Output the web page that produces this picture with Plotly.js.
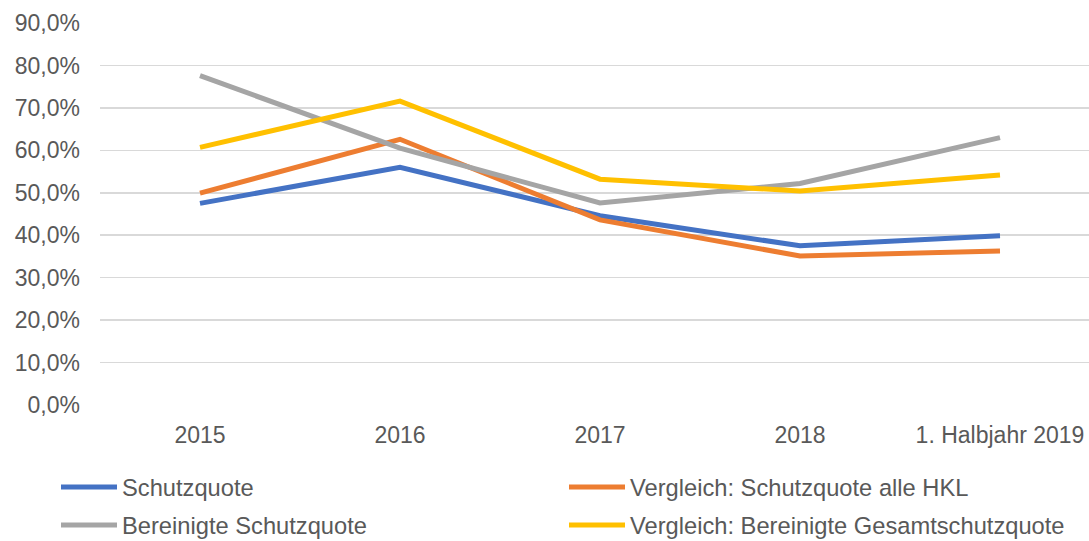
<!DOCTYPE html>
<html>
<head>
<meta charset="utf-8">
<script src="https://cdn.plot.ly/plotly-3.0.1.min.js"></script>
<style>html,body{margin:0;padding:0;background:#fff;}#chart{width:1089px;height:541px;}</style>
</head>
<body>
<div id="chart"></div>
<script>
const categories = ["2015", "2016", "2017", "2018", "1. Halbjahr 2019"];
const schutzquote = [0.475, 0.560, 0.446, 0.375, 0.399];
const vergleichAlleHKL = [0.499, 0.626, 0.436, 0.351, 0.363];
const bereinigteSchutzquote = [0.776, 0.605, 0.476, 0.522, 0.630];
const vergleichBereinigteGesamt = [0.607, 0.716, 0.532, 0.504, 0.542];
const seriesNames = ["Schutzquote", "Vergleich: Schutzquote alle HKL", "Bereinigte Schutzquote", "Vergleich: Bereinigte Gesamtschutzquote"];
const colors = ["#4472C4", "#ED7D31", "#A5A5A5", "#FFC000"];
const seriesValues = [schutzquote, vergleichAlleHKL, bereinigteSchutzquote, vergleichBereinigteGesamt];
const legendIds = ["legend", "legend2", "legend3", "legend4"];

const traces = seriesValues.map((vals, i) => ({
  type: 'scatter', mode: 'lines',
  x: categories.map((c, j) => j), y: vals,
  name: seriesNames[i],
  legend: legendIds[i],
  line: {color: colors[i], width: 5},
  hoverinfo: 'skip'
}));

const FS = 23;
const legendBase = {
  orientation: 'h', xref: 'container', yref: 'container',
  xanchor: 'left', yanchor: 'middle',
  itemwidth: 56,
  font: {size: 23.7, color: '#595959'},
  bgcolor: 'rgba(0,0,0,0)'
};
const colX = [56, 564];
const rowY = [487, 525];

const layout = {
  width: 1089, height: 541,
  margin: {l: 100, r: 0, t: 23, b: 136},
  paper_bgcolor: '#fff', plot_bgcolor: '#fff',
  separators: ',.',
  font: {family: 'Liberation Sans, Arial, sans-serif', size: FS, color: '#595959'},
  showlegend: true,
  xaxis: {
    range: [-0.5, 4.445],
    tickmode: 'array', tickvals: [0,1,2,3,4], ticktext: categories,
    showgrid: false, zeroline: false, showline: false, ticks: '',
    ticklabelstandoff: 14,
    tickfont: {size: FS, color: '#595959'},
    fixedrange: true
  },
  yaxis: {
    range: [0, 0.9], dtick: 0.1, tick0: 0,
    tickformat: '.1%',
    showgrid: true, gridcolor: '#D9D9D9', gridwidth: 1.5,
    zeroline: false, showline: false, ticks: '',
    ticklabelstandoff: 19,
    tickfont: {size: FS, color: '#595959'},
    fixedrange: true
  }
};
legendIds.forEach((id, i) => {
  layout[id] = Object.assign({}, legendBase, {
    x: colX[i % 2] / 1089,
    y: 1 - rowY[Math.floor(i / 2)] / 541
  });
});

Plotly.newPlot('chart', traces, layout, {staticPlot: true, displayModeBar: false});
</script>
</body>
</html>
